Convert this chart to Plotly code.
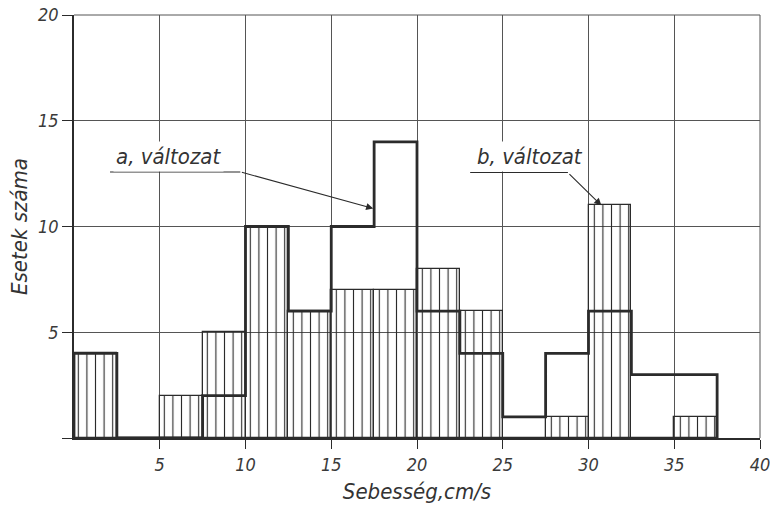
import plotly.graph_objects as go

# Data (bins of 2.5 cm/s)
bin_left = [0, 2.5, 5, 7.5, 10, 12.5, 15, 17.5, 20, 22.5, 25, 27.5, 30, 32.5, 35]
bin_width = 2.5
variant_b = [4, 0, 2, 5, 10, 6, 7, 7, 8, 6, 0, 1, 11, 0, 1]   # hatched bars
variant_a = [4, 0, 0, 2, 10, 6, 10, 14, 6, 4, 1, 4, 6, 3, 3]  # thick step outline

x_ticks = [5, 10, 15, 20, 25, 30, 35, 40]
y_ticks = [0, 5, 10, 15, 20]
y_ticktext = ["", "5", "10", "15", "20"]

INK = "#2b2b2b"
GRID = "#555"
FONT = "DejaVu Sans Condensed, Liberation Sans Narrow, Liberation Sans, sans-serif"

centers = [l + bin_width / 2 for l in bin_left]

fig = go.Figure()

fig.add_trace(go.Bar(
    x=centers, y=variant_b, width=bin_width,
    marker=dict(color=INK,
                line=dict(color=INK, width=1.3),
                pattern=dict(shape="|", size=8.6, solidity=0.13,
                             fgcolor=INK, bgcolor="rgba(0,0,0,0)",
                             fillmode="replace")),
    showlegend=False, hoverinfo="skip",
))

step_x = [bin_left[0]] + bin_left + [bin_left[-1] + bin_width]
step_y = [0] + variant_a + [0]
fig.add_trace(go.Scatter(
    x=step_x, y=step_y, mode="lines", line=dict(shape="hv", color=INK, width=2.8),
    showlegend=False, hoverinfo="skip", cliponaxis=False,
))

tickfont = dict(family=FONT, size=18, color="#3a3a3a", style="italic")

# frame lines on the top and right edges (grid at y=20 and x=40)
fig.add_shape(type="line", xref="x domain", yref="y domain", x0=0, x1=1, y0=1, y1=1,
              line=dict(color=GRID, width=1), layer="below")
fig.add_shape(type="line", xref="x domain", yref="y domain", x0=1, x1=1, y0=0, y1=1,
              line=dict(color=GRID, width=1), layer="below")

# annotation leaders
labels = [
    dict(text="a, változat", tx=2.3, ty=13.3, ux0=2.1, ux1=9.7, uy=12.58, tipx=17.45, tipy=10.85),
    dict(text="b, változat", tx=23.3, ty=13.3, ux0=23.1, ux1=28.8, uy=12.55, tipx=30.75, tipy=11.0),
]
for lb in labels:
    fig.add_annotation(x=lb["tx"], y=lb["ty"], xref="x", yref="y", text=lb["text"],
                       xanchor="left", showarrow=False, bgcolor="white", borderpad=2,
                       font=dict(family=FONT, size=22, color="#333", style="italic"))
    fig.add_shape(type="line", x0=lb["ux0"], x1=lb["ux1"], y0=lb["uy"], y1=lb["uy"],
                  xref="x", yref="y", line=dict(color=INK, width=1.1))
    fig.add_annotation(x=lb["tipx"], y=lb["tipy"], ax=lb["ux1"], ay=lb["uy"],
                       xref="x", yref="y", axref="x", ayref="y", text="",
                       showarrow=True, arrowhead=2, arrowsize=1.3, arrowwidth=1.1,
                       arrowcolor=INK)

fig.update_xaxes(range=[0, 40], tickvals=x_ticks, ticktext=[str(v) for v in x_ticks],
                 ticks="outside", ticklen=9, tickwidth=1.3, tickcolor=INK,
                 showgrid=True, gridcolor=GRID, gridwidth=1,
                 showline=True, linecolor=INK, linewidth=2, mirror=False,
                 zeroline=False, tickfont=tickfont, automargin=False,
                 ticklabeloverflow="allow",
                 title=dict(text="Sebesség,cm/s", standoff=10,
                            font=dict(family=FONT, size=22, color="#333", style="italic")))
fig.update_yaxes(range=[0, 20], tickvals=y_ticks, ticktext=y_ticktext,
                 ticks="outside", ticklen=10, tickwidth=1.3, tickcolor=INK,
                 showgrid=True, gridcolor=GRID, gridwidth=1,
                 showline=True, linecolor=INK, linewidth=1.6,
                 zeroline=False, tickfont=tickfont, automargin=False,
                 ticklabeloverflow="allow",
                 title=dict(text="Esetek száma", standoff=4,
                            font=dict(family=FONT, size=22, color="#333", style="italic")))

fig.update_layout(
    width=770, height=509,
    margin=dict(l=74, r=10, t=15, b=71),
    paper_bgcolor="white", plot_bgcolor="white",
    bargap=0,
)

# remove the browser's default 8px body margin so the figure fills the window
fig.write_html("out.html", config={"displayModeBar": False},
               post_script="document.body.style.margin='0';")
